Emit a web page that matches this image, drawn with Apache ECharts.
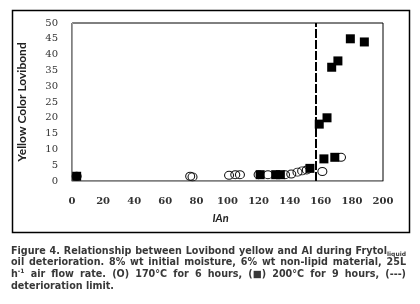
<!DOCTYPE html>
<html>
<head>
<meta charset="utf-8">
<script src="https://cdn.jsdelivr.net/npm/echarts@6/dist/echarts.min.js"></script>
<style>
  html, body { margin: 0; padding: 0; background: #ffffff; }
  #main { width: 420px; height: 304px; }
</style>
</head>
<body>
<div id="main"></div>
<script>
// 170°C for 6 hours (open circles): [IAn, yellow]
var circles170 = [
  [3, 1.5], [76, 1.5], [77.5, 1.3], [101, 1.8], [105, 2], [108, 2],
  [120, 2], [126, 2], [137, 2], [141, 2.2], [145, 2.8], [148, 3.2],
  [151, 3.5], [161, 3], [173, 7.5]
]
// 200°C for 9 hours (filled squares)
var squares200 = [
  [3, 1.5], [121, 2], [131, 2], [134, 2], [153, 4], [159, 18],
  [162, 7], [164, 20], [167, 36], [169, 7.5], [171, 38], [179, 45], [188, 44]
]
var limitIAn = 157
var xTicks = [0, 200, 20]
var yTicks = [0, 50, 5]

// caption, one entry per printed line; [base, small, 'sub'|'sup'] for indices
var captionLines = [
  ['Figure', '4.', 'Relationship', 'between', 'Lovibond', 'yellow', 'and', 'AI', 'during', ['Frytol', 'liquid', 'sub']],
  ['oil', 'deterioration.', '8%', 'wt', 'initial', 'moisture,', '6%', 'wt', 'non-lipid', 'material,', '25L'],
  [['h', '-1', 'sup'], 'air', 'flow', 'rate.', '(O)', '170°C', 'for', '6', 'hours,', '(■)', '200°C', 'for', '9', 'hours,', '(---)'],
  ['deterioration', 'limit.']
]

var myChart = echarts.init(document.getElementById('main'))

var capFamily = '"DejaVu Sans", sans-serif'
var capFont = 'bold 9.6px ' + capFamily
var capSmall = 'bold 6px ' + capFamily
var capColor = '#383838'
var ctx = document.createElement('canvas').getContext('2d')
function measure (txt, font) {
  ctx.font = font
  return ctx.measureText(txt).width
}

// lay out justified caption words
var capLeft = 11
var capRight = 406
var captionGraphics = []
captionLines.forEach(function (words, i) {
  var y = 246 + i * 11.7
  var widths = words.map(function (w) {
    if (typeof w === 'string') return measure(w, capFont)
    return measure(w[0], capFont) + measure(w[1], capSmall)
  })
  var total = widths.reduce(function (a, b) { return a + b }, 0)
  var last = i === captionLines.length - 1
  var gap = last ? measure(' ', capFont) : (capRight - capLeft - total) / (words.length - 1)
  var x = capLeft
  words.forEach(function (w, j) {
    if (typeof w === 'string') {
      captionGraphics.push({ type: 'text', left: x, top: y, style: { text: w, font: capFont, fill: capColor } })
    } else {
      captionGraphics.push({ type: 'text', left: x, top: y, style: { text: w[0], font: capFont, fill: capColor } })
      captionGraphics.push({
        type: 'text',
        left: x + measure(w[0], capFont),
        top: w[2] === 'sub' ? y + 5 : y - 1,
        style: { text: w[1], font: capSmall, fill: capColor }
      })
    }
    x += widths[j] + gap
  })
})

var axisFont = '"DejaVu Serif", serif'

myChart.setOption({
  animation: false,
  backgroundColor: '#ffffff',
  grid: {
    left: 72,
    right: 37,
    top: 23,
    bottom: 123,
    show: true,
    borderColor: '#000',
    borderWidth: 1
  },
  xAxis: {
    type: 'value',
    min: xTicks[0],
    max: xTicks[1],
    interval: xTicks[2],
    name: 'IAn',
    nameLocation: 'middle',
    nameGap: 32,
    nameTextStyle: { fontFamily: 'Lato, sans-serif', fontWeight: 'bold', fontStyle: 'italic', fontSize: 11, color: '#222', padding: [0, 14, 0, 0] },
    axisLine: { lineStyle: { color: '#a0a0a0' } },
    axisTick: { show: false },
    splitLine: { show: false },
    axisLabel: { margin: 15, fontFamily: axisFont, fontSize: 10, fontWeight: 'bold', color: '#333' }
  },
  yAxis: {
    type: 'value',
    min: yTicks[0],
    max: yTicks[1],
    interval: yTicks[2],
    name: 'Yellow Color Lovibond',
    nameLocation: 'middle',
    nameGap: 44,
    nameTextStyle: { fontFamily: 'Lato, sans-serif', fontWeight: 'bold', fontSize: 12, color: '#222' },
    axisLine: { show: true, lineStyle: { color: '#a0a0a0' } },
    axisTick: { show: false },
    splitLine: { show: false },
    axisLabel: { margin: 14, fontFamily: axisFont, fontSize: 10, color: '#333' }
  },
  series: [
    {
      name: '170°C',
      type: 'scatter',
      symbol: 'circle',
      symbolSize: [9, 8],
      itemStyle: { color: 'rgba(0,0,0,0)', borderColor: '#111', borderWidth: 1, opacity: 1 },
      z: 2,
      data: circles170
    },
    {
      name: '200°C',
      type: 'scatter',
      symbol: 'rect',
      symbolSize: 9,
      itemStyle: { color: '#000', borderWidth: 0, opacity: 1 },
      z: 3,
      data: squares200,
      markLine: {
        silent: true,
        symbol: 'none',
        label: { show: false },
        lineStyle: { color: '#000', width: 2, type: [9, 2] },
        data: [{ xAxis: limitIAn }]
      }
    }
  ],
  graphic: [
    {
      type: 'rect',
      left: 10,
      top: 8,
      shape: { width: 397, height: 222 },
      style: { fill: 'none', stroke: '#000', lineWidth: 1.5 },
      z: -1
    }
  ].concat(captionGraphics)
})
</script>
</body>
</html>
